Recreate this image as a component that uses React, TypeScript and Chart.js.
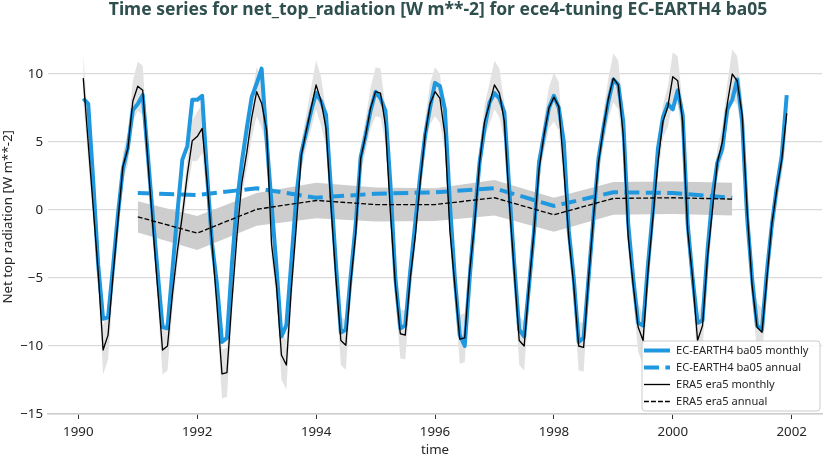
import React, { useEffect, useRef } from "react";
import { Chart, registerables } from "chart.js";

Chart.register(...registerables);

const FONT = '"Noto Sans", "DejaVu Sans", sans-serif';

// ---- data ----
const titleText = "Time series for net_top_radiation [W m**-2] for ece4-tuning EC-EARTH4 ba05";
const yLabel = "Net top radiation [W m**-2]";
const xLabel = "time";
const startYear = 1990;

const xTicks = [1990, 1992, 1994, 1996, 1998, 2000, 2002];
const yTicks = [-15, -10, -5, 0, 5, 10];

// EC-EARTH4 ba05 monthly (Jan 1990 ... Nov 2001)
const ecMonthly = [
  8.2, 7.8, 2.2, -4.0, -8.0, -7.9, -4.2, -0.3, 3.0, 4.6, 7.35, 7.8,
  8.45, 4.2, -0.3, -4.5, -8.6, -8.7, -4.4, -0.2, 3.7, 4.7, 8.1, 8.1,
  8.4, 2.6, -2.5, -5.5, -9.7, -9.4, -4.0, 0.5, 3.5, 6.0, 8.3, 9.3,
  10.4, 5.2, 0.5, -4.2, -9.3, -8.45, -3.8, 1.0, 4.2, 5.7, 7.3, 8.6,
  8.0, 7.0, 1.5, -4.0, -9.0, -8.8, -4.8, -1.0, 3.9, 5.5, 7.3, 8.7,
  8.2, 7.3, 1.9, -5.0, -8.7, -8.5, -4.5, -1.0, 2.5, 5.5, 7.5, 9.35,
  9.1, 7.4, 0.5, -5.0, -9.2, -10.0, -5.0, -0.5, 3.5, 6.0, 7.9, 8.6,
  8.2, 7.2, 1.5, -4.0, -8.8, -9.3, -5.5, -1.5, 3.5, 5.5, 7.5, 8.4,
  7.5, 5.0, -1.5, -5.0, -9.7, -9.4, -5.0, -0.5, 3.8, 6.0, 8.0, 9.6,
  9.2, 6.5, -1.0, -5.0, -8.3, -8.5, -4.0, 0.0, 4.5, 6.8, 7.8, 7.4,
  8.8, 7.0, -1.0, -5.0, -8.3, -8.1, -3.0, 1.0, 3.5, 4.5, 7.4, 8.1,
  9.6, 6.5, -0.5, -5.0, -8.5, -8.8, -4.5, -1.1, 1.7, 4.0, 8.45,
];

// ERA5 era5 monthly
const eraMonthly = [
  9.7, 4.9, 0.2, -4.5, -10.3, -9.2, -4.8, -0.8, 3.2, 4.5, 8.0, 9.1,
  8.8, 3.8, -1.0, -5.7, -10.3, -10.0, -6.2, -3.0, -0.4, 2.6, 5.1, 5.4,
  6.0, 2.0, -2.5, -7.1, -12.05, -11.95, -6.7, -2.0, 2.0, 4.2, 6.8, 8.7,
  7.85, 5.9, -2.5, -5.6, -10.66, -11.4, -5.8, -1.2, 4.0, 5.8, 7.5, 9.2,
  8.0, 6.0, 0.3, -5.0, -9.6, -9.95, -5.3, -1.7, 3.8, 5.5, 7.5, 8.7,
  8.6, 6.2, -0.2, -5.5, -9.1, -9.2, -5.0, -2.0, 2.0, 5.5, 7.8, 8.7,
  8.2, 5.5, -1.5, -5.5, -9.5, -9.4, -4.5, -1.0, 3.5, 6.5, 7.8, 9.2,
  8.6, 6.5, 0.5, -4.5, -9.6, -10.0, -5.5, -1.5, 3.0, 5.5, 7.5, 8.3,
  7.6, 3.0, -2.0, -5.5, -10.0, -10.1, -5.0, -0.5, 3.5, 6.0, 8.2, 9.7,
  9.2, 5.5, -2.0, -5.5, -8.6, -9.6, -4.5, -0.5, 3.5, 6.5, 7.6, 9.8,
  9.5, 6.5, -1.5, -5.0, -9.6, -8.5, -3.5, 0.0, 3.5, 5.0, 7.8, 10.0,
  9.5, 7.0, 0.0, -5.5, -8.6, -9.0, -5.0, -1.0, 1.5, 3.7, 7.1,
];

// ERA5 monthly spread (shaded band half-width) by calendar month
const eraMonthlySpread = [1.8, 1.3, 1.0, 1.0, 1.8, 1.8, 1.2, 1.0, 1.0, 1.2, 1.5, 1.8];

const annualYears = [1991, 1992, 1993, 1994, 1995, 1996, 1997, 1998, 1999, 2000, 2001];
const ecAnnual = [1.25, 1.1, 1.6, 0.9, 1.2, 1.3, 1.6, 0.3, 1.3, 1.25, 0.9];
const eraAnnual = [-0.5, -1.7, 0.05, 0.7, 0.4, 0.4, 0.9, -0.35, 0.85, 0.9, 0.8];
const eraAnnualSpread = [1.15, 1.25, 1.2, 1.3, 1.25, 1.2, 1.3, 1.25, 1.2, 1.2, 1.2];

// ---- styles ----
const BLUE = "#1f98e0";
const BAND_MONTHLY = "#e2e2e2";
const BAND_ANNUAL = "#cdcdcd";
const TEXT = "#262626";

const monthTime = (i: number) => startYear + (i + 1) / 12;

const titlePlugin = {
  id: "plotTitle",
  afterDraw(chart: any) {
    const { ctx, chartArea } = chart;
    ctx.save();
    ctx.font = `bold 17.5px ${FONT}`;
    ctx.fillStyle = "#2f4f4f";
    ctx.textAlign = "center";
    ctx.textBaseline = "middle";
    ctx.fillText(titleText, (chartArea.left + chartArea.right) / 2 + 3, 10);
    ctx.restore();
  },
};

const legendPlugin = {
  id: "boxLegend",
  afterDraw(chart: any) {
    const { ctx, chartArea } = chart;
    const items = chart.data.datasets.filter((d: any) => d.label);
    const w = 178;
    const rowH = 17;
    const h = items.length * rowH + 2;
    const x0 = chartArea.right - w - 2;
    const y0 = chartArea.bottom - h - 3;
    ctx.save();
    const r = 3;
    ctx.beginPath();
    ctx.moveTo(x0 + r, y0);
    ctx.lineTo(x0 + w - r, y0);
    ctx.arcTo(x0 + w, y0, x0 + w, y0 + r, r);
    ctx.lineTo(x0 + w, y0 + h - r);
    ctx.arcTo(x0 + w, y0 + h, x0 + w - r, y0 + h, r);
    ctx.lineTo(x0 + r, y0 + h);
    ctx.arcTo(x0, y0 + h, x0, y0 + h - r, r);
    ctx.lineTo(x0, y0 + r);
    ctx.arcTo(x0, y0, x0 + r, y0, r);
    ctx.closePath();
    ctx.fillStyle = "rgba(255,255,255,0.85)";
    ctx.fill();
    ctx.strokeStyle = "#cccccc";
    ctx.lineWidth = 1;
    ctx.stroke();
    ctx.font = `11.1px ${FONT}`;
    ctx.textBaseline = "middle";
    ctx.textAlign = "left";
    items.forEach((d: any, k: number) => {
      const cy = y0 + 9.5 + k * rowH;
      ctx.beginPath();
      ctx.setLineDash(d.borderDash || []);
      ctx.lineWidth = d.borderWidth;
      ctx.strokeStyle = d.borderColor;
      ctx.moveTo(x0 + 2, cy);
      ctx.lineTo(x0 + 28, cy);
      ctx.stroke();
      ctx.setLineDash([]);
      ctx.fillStyle = TEXT;
      ctx.fillText(d.label, x0 + 34, cy + 0.5);
    });
    ctx.restore();
  },
};

export default function App() {
  const canvasRef = useRef<HTMLCanvasElement | null>(null);

  useEffect(() => {
    document.body.style.margin = "0";
    const canvas = canvasRef.current;
    if (!canvas) return;

    const ecM = ecMonthly.map((v, i) => ({ x: monthTime(i), y: v }));
    const eraM = eraMonthly.map((v, i) => ({ x: monthTime(i), y: v }));
    const eraMUp = eraMonthly.map((v, i) => ({ x: monthTime(i), y: v + eraMonthlySpread[i % 12] }));
    const eraMLo = eraMonthly.map((v, i) => ({ x: monthTime(i), y: v - eraMonthlySpread[i % 12] }));
    const ecA = ecAnnual.map((v, i) => ({ x: annualYears[i], y: v }));
    const eraA = eraAnnual.map((v, i) => ({ x: annualYears[i], y: v }));
    const eraAUp = eraAnnual.map((v, i) => ({ x: annualYears[i], y: v + eraAnnualSpread[i] }));
    const eraALo = eraAnnual.map((v, i) => ({ x: annualYears[i], y: v - eraAnnualSpread[i] }));

    const line = {
      pointRadius: 0,
      pointHoverRadius: 0,
      tension: 0,
      borderJoinStyle: "round" as const,
      fill: false,
    };

    const chart = new Chart(canvas, {
      type: "line",
      data: {
        datasets: [
          { ...line, label: "EC-EARTH4 ba05 monthly", data: ecM, borderColor: BLUE, borderWidth: 4, order: 4 },
          {
            ...line,
            label: "EC-EARTH4 ba05 annual",
            data: ecA,
            borderColor: BLUE,
            borderWidth: 4,
            borderDash: [15, 6.4],
            borderJoinStyle: "miter",
            order: 3,
          },
          { ...line, label: "ERA5 era5 monthly", data: eraM, borderColor: "#000000", borderWidth: 1.33, order: 2 },
          {
            ...line,
            label: "ERA5 era5 annual",
            data: eraA,
            borderColor: "#000000",
            borderWidth: 1.33,
            borderDash: [4.9, 2.1],
            order: 1,
          },
          { ...line, label: "", data: eraMUp, borderWidth: 0, borderColor: "rgba(0,0,0,0)", backgroundColor: BAND_MONTHLY, fill: "+1", order: 10 },
          { ...line, label: "", data: eraMLo, borderWidth: 0, borderColor: "rgba(0,0,0,0)", order: 10 },
          { ...line, label: "", data: eraAUp, borderWidth: 0, borderColor: "rgba(0,0,0,0)", backgroundColor: BAND_ANNUAL, fill: "+1", order: 9 },
          { ...line, label: "", data: eraALo, borderWidth: 0, borderColor: "rgba(0,0,0,0)", order: 9 },
        ] as any,
      },
      options: {
        responsive: false,
        animation: false,
        events: [],
        layout: { padding: { top: 19.6, right: 2, left: 0, bottom: 0 } },
        plugins: {
          legend: { display: false },
          tooltip: { enabled: false },
          title: { display: false },
        },
        scales: {
          x: {
            type: "linear",
            min: 1989.49,
            max: 2002.51,
            afterBuildTicks: (scale: any) => {
              scale.ticks = xTicks.map((v) => ({ value: v }));
            },
            afterFit: (scale: any) => {
              scale.height = 43;
            },
            grid: {
              display: true,
              drawOnChartArea: false,
              drawTicks: true,
              tickLength: 5,
              tickColor: "#333333",
              tickWidth: 1,
            },
            border: { display: true, color: "#cccccc", width: 1.5 },
            ticks: {
              color: TEXT,
              font: { family: FONT, size: 13.3 },
              padding: 5,
              maxRotation: 0,
              autoSkip: false,
              callback: (v: any) => String(v),
            },
            title: {
              display: true,
              text: xLabel,
              color: TEXT,
              font: { family: FONT, size: 13.3, lineHeight: 1 },
              padding: { top: 0, bottom: 0 },
            },
          },
          y: {
            type: "linear",
            min: -15,
            max: 14,
            afterBuildTicks: (scale: any) => {
              scale.ticks = yTicks.map((v) => ({ value: v }));
            },
            afterFit: (scale: any) => {
              scale.width = 48;
            },
            grid: {
              display: true,
              drawTicks: false,
              color: "#dadada",
              lineWidth: 1.2,
            },
            border: { display: false },
            ticks: {
              color: TEXT,
              font: { family: FONT, size: 13.3 },
              padding: 5,
              callback: (v: any) => (v < 0 ? "\u2212" + Math.abs(v) : String(v)),
            },
            title: {
              display: true,
              text: yLabel,
              color: TEXT,
              font: { family: FONT, size: 13.3 },
              padding: { top: 0, bottom: 0 },
            },
          },
        },
      },
      plugins: [titlePlugin, legendPlugin],
    });

    return () => {
      chart.destroy();
    };
  }, []);

  return (
    <div style={{ position: "fixed", left: 0, top: 0, width: 824, height: 457, background: "#ffffff" }}>
      <canvas ref={canvasRef} width={824} height={457} style={{ width: 824, height: 457, display: "block" }} />
    </div>
  );
}
